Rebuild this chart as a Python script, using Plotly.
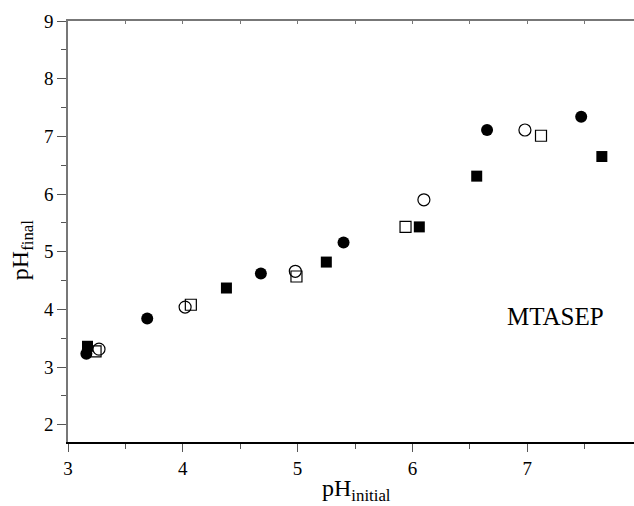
import plotly.graph_objects as go

# filled circles
fc_x = [3.16, 3.69, 4.68, 5.40, 6.65, 7.47]
fc_y = [3.23, 3.84, 4.62, 5.16, 7.11, 7.34]
# filled squares
fs_x = [3.17, 4.38, 5.25, 6.06, 6.56, 7.65]
fs_y = [3.36, 4.37, 4.82, 5.43, 6.31, 6.65]
# open circles
oc_x = [3.27, 4.02, 4.98, 6.10, 6.98]
oc_y = [3.31, 4.04, 4.66, 5.90, 7.11]
# open squares
os_x = [3.24, 4.07, 4.99, 5.94, 7.12]
os_y = [3.27, 4.08, 4.57, 5.43, 7.01]

FONT = "Liberation Serif"

fig = go.Figure()
fig.add_trace(go.Scatter(x=os_x, y=os_y, mode="markers",
                         marker=dict(symbol="square-open", size=11, color="black", line=dict(width=1.2))))
fig.add_trace(go.Scatter(x=oc_x, y=oc_y, mode="markers",
                         marker=dict(symbol="circle-open", size=12, color="black", line=dict(width=1.2))))
fig.add_trace(go.Scatter(x=fs_x, y=fs_y, mode="markers",
                         marker=dict(symbol="square", size=11, color="black")))
fig.add_trace(go.Scatter(x=fc_x, y=fc_y, mode="markers",
                         marker=dict(symbol="circle", size=12, color="black")))
fig.add_trace(go.Scatter(x=[], y=[], xaxis="x2", showlegend=False))

fig.add_annotation(x=7.25, y=3.88, text="MTASEP", showarrow=False,
                   font=dict(family=FONT, size=25, color="black"))
# axis titles
fig.add_annotation(xref="paper", yref="paper", x=0.51, y=-0.114, yanchor="middle",
                   text="pH<sub>initial</sub>", showarrow=False,
                   font=dict(family=FONT, size=24, color="black"))
fig.add_annotation(xref="paper", yref="paper", x=-0.081, y=0.456, xanchor="center",
                   yanchor="middle", textangle=-90,
                   text="pH<sub>final</sub>", showarrow=False,
                   font=dict(family=FONT, size=24, color="black"))

xr = [3, 7.93]
fig.update_layout(
    width=634, height=506,
    margin=dict(l=68, r=0, t=21, b=64),
    paper_bgcolor="white", plot_bgcolor="white",
    showlegend=False,
    font=dict(family=FONT, color="black", size=19),
    xaxis=dict(range=xr, dtick=1, tick0=3, showgrid=False, zeroline=False, automargin=False,
               showline=True, linecolor="black", linewidth=1.5,
               ticks="outside", ticklen=8, tickcolor="#555", tickwidth=1,
               tickfont=dict(family=FONT, size=19),
               minor=dict(ticks="outside", ticklen=5, dtick=0.5, tickcolor="#555")),
    xaxis2=dict(range=xr, overlaying="x", side="top", showgrid=False, zeroline=False,
                automargin=False,
                showline=True, linecolor="#777", linewidth=1.5, dtick=0.5, tick0=3,
                ticks="inside", ticklen=3, tickcolor="#777", showticklabels=False),
    yaxis=dict(range=[1.7, 9], dtick=1, showgrid=False, zeroline=False, automargin=False,
               showline=True, linecolor="#777", linewidth=1.5,
               ticks="outside", ticklen=9, tickcolor="#555", tickwidth=1,
               tickfont=dict(family=FONT, size=19),
               minor=dict(ticks="outside", ticklen=5, dtick=0.5, tickcolor="#555")),
)

# drop the default 8px body margin so the figure fills the window exactly
fig.write_html("out.html", config={"displayModeBar": False},
               post_script="document.body.style.margin='0';")
